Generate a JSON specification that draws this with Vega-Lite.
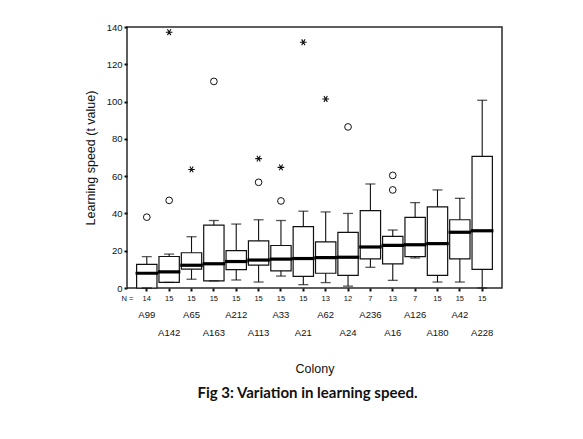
{
  "$schema": "https://vega.github.io/schema/vega-lite/v6.json",
  "width": 375,
  "height": 261,
  "autosize": "none",
  "padding": {"left": 127, "top": 27, "right": 81, "bottom": 151},
  "background": "white",
  "title": {
    "text": "Fig 3: Variation in learning speed.",
    "orient": "bottom",
    "anchor": "middle",
    "dx": -7,
    "offset": 11,
    "font": "Lato",
    "fontSize": 15,
    "fontWeight": "bold",
    "color": "#111"
  },
  "datasets": {
    "boxes": [
      {"c": "A99", "n": 14, "lo": 0, "q1": 0, "med": 7.9, "q3": 12.7, "hi": 16.8},
      {"c": "A142", "n": 15, "lo": 3.0, "q1": 3.0, "med": 8.7, "q3": 16.9, "hi": 18.2},
      {"c": "A65", "n": 15, "lo": 4.7, "q1": 10.1, "med": 12.2, "q3": 18.9, "hi": 27.5},
      {"c": "A163", "n": 15, "lo": 3.8, "q1": 3.8, "med": 13.0, "q3": 33.7, "hi": 36.2},
      {"c": "A212", "n": 15, "lo": 4.3, "q1": 9.9, "med": 14.2, "q3": 20.1, "hi": 34.3},
      {"c": "A113", "n": 15, "lo": 3.2, "q1": 12.3, "med": 15.0, "q3": 25.3, "hi": 36.6},
      {"c": "A33", "n": 15, "lo": 6.4, "q1": 9.2, "med": 15.5, "q3": 22.8, "hi": 36.2},
      {"c": "A21", "n": 15, "lo": 1.8, "q1": 6.2, "med": 15.8, "q3": 32.9, "hi": 41.2},
      {"c": "A62", "n": 13, "lo": 2.9, "q1": 7.9, "med": 16.3, "q3": 24.7, "hi": 40.8},
      {"c": "A24", "n": 12, "lo": 1.0, "q1": 6.8, "med": 16.5, "q3": 29.8, "hi": 40.0},
      {"c": "A236", "n": 7, "lo": 11.1, "q1": 15.6, "med": 22.0, "q3": 41.5, "hi": 55.8},
      {"c": "A16", "n": 13, "lo": 4.1, "q1": 12.9, "med": 22.9, "q3": 27.7, "hi": 31.1},
      {"c": "A126", "n": 7, "lo": 16.1, "q1": 16.8, "med": 23.2, "q3": 37.9, "hi": 45.8},
      {"c": "A180", "n": 15, "lo": 3.2, "q1": 6.8, "med": 23.8, "q3": 43.5, "hi": 52.6},
      {"c": "A42", "n": 15, "lo": 3.2, "q1": 15.6, "med": 29.9, "q3": 36.6, "hi": 48.1},
      {"c": "A228", "n": 15, "lo": 0, "q1": 10.0, "med": 30.7, "q3": 70.6, "hi": 100.7}
    ],
    "outliers": [
      {"c": "A99", "v": 38.0, "kind": "circle"},
      {"c": "A142", "v": 47.0, "kind": "circle"},
      {"c": "A142", "v": 137.2, "kind": "extreme"},
      {"c": "A65", "v": 63.6, "kind": "extreme"},
      {"c": "A163", "v": 110.8, "kind": "circle"},
      {"c": "A113", "v": 56.7, "kind": "circle"},
      {"c": "A113", "v": 69.4, "kind": "extreme"},
      {"c": "A33", "v": 46.7, "kind": "circle"},
      {"c": "A33", "v": 64.7, "kind": "extreme"},
      {"c": "A21", "v": 131.8, "kind": "extreme"},
      {"c": "A62", "v": 101.4, "kind": "extreme"},
      {"c": "A24", "v": 86.4, "kind": "circle"},
      {"c": "A16", "v": 60.4, "kind": "circle"},
      {"c": "A16", "v": 52.6, "kind": "circle"}
    ]
  },
  "config": {
    "view": {"stroke": "#2a2a2a", "strokeWidth": 1.5},
    "axis": {
      "labelFont": "Liberation Sans",
      "titleFont": "Liberation Sans",
      "titleFontWeight": "normal",
      "labelColor": "#111",
      "titleColor": "#111",
      "grid": false,
      "domain": false
    },
    "axisY": {
      "values": [0, 20, 40, 60, 80, 100, 120, 140],
      "labelFontSize": 9.5,
      "tickSize": 3,
      "tickWidth": 2,
      "tickColor": "#111",
      "labelPadding": 2,
      "titleFontSize": 12.5,
      "titlePadding": 9
    }
  },
  "resolve": {"axis": {"x": "independent"}},
  "layer": [
    {
      "data": {"name": "boxes"},
      "mark": {"type": "bar", "fill": "white", "stroke": "#111", "strokeWidth": 1.2},
      "encoding": {
        "x": {
          "field": "c", "type": "nominal",
          "sort": ["A99","A142","A65","A163","A212","A113","A33","A21","A62","A24","A236","A16","A126","A180","A42","A228"],
          "scale": {"paddingInner": 0.09, "paddingOuter": 0.43},
          "axis": {
            "orient": "bottom",
            "title": "N =",
            "titleFontSize": 7.5,
            "titleAngle": 0,
            "titleX": 0,
            "titleY": 10,
            "titleAlign": "center",
            "titleBaseline": "middle",
            "labelAngle": 0,
            "labelFontSize": 7.5,
            "labelPadding": 3,
            "tickSize": 3,
            "tickWidth": 2,
            "tickColor": "#111",
            "labelOverlap": false,
            "labelExpr": "['14','15','15','15','15','15','15','15','13','12','7','13','7','15','15','15'][indexof(['A99','A142','A65','A163','A212','A113','A33','A21','A62','A24','A236','A16','A126','A180','A42','A228'], datum.value)]"
          }
        },
        "y": {"field": "q1", "type": "quantitative", "scale": {"domain": [0, 140], "nice": false}, "title": "Learning speed (t value)"},
        "y2": {"field": "q3"}
      }
    },
    {
      "data": {"name": "boxes"},
      "mark": {"type": "rule", "color": "#111", "strokeWidth": 1.1},
      "encoding": {
        "x": {"field": "c", "type": "nominal", "sort": ["A99","A142","A65","A163","A212","A113","A33","A21","A62","A24","A236","A16","A126","A180","A42","A228"], "axis": null},
        "y": {"field": "q3", "type": "quantitative", "title": "Learning speed (t value)"},
        "y2": {"field": "hi"}
      }
    },
    {
      "data": {"name": "boxes"},
      "mark": {"type": "rule", "color": "#111", "strokeWidth": 1.1},
      "encoding": {
        "x": {"field": "c", "type": "nominal", "sort": ["A99","A142","A65","A163","A212","A113","A33","A21","A62","A24","A236","A16","A126","A180","A42","A228"], "axis": null},
        "y": {"field": "lo", "type": "quantitative", "title": "Learning speed (t value)"},
        "y2": {"field": "q1"}
      }
    },
    {
      "data": {"name": "boxes"},
      "mark": {"type": "tick", "color": "#111", "size": 10, "thickness": 1.3},
      "encoding": {
        "x": {"field": "c", "type": "nominal", "sort": ["A99","A142","A65","A163","A212","A113","A33","A21","A62","A24","A236","A16","A126","A180","A42","A228"], "axis": null},
        "y": {"field": "hi", "type": "quantitative", "title": "Learning speed (t value)"}
      }
    },
    {
      "data": {"name": "boxes"},
      "mark": {"type": "tick", "color": "#111", "size": 10, "thickness": 1.3},
      "encoding": {
        "x": {"field": "c", "type": "nominal", "sort": ["A99","A142","A65","A163","A212","A113","A33","A21","A62","A24","A236","A16","A126","A180","A42","A228"], "axis": null},
        "y": {"field": "lo", "type": "quantitative", "title": "Learning speed (t value)"}
      }
    },
    {
      "data": {"name": "boxes"},
      "mark": {"type": "tick", "color": "#000", "size": 22.5, "thickness": 3.2, "opacity": 1},
      "encoding": {
        "x": {
          "field": "c", "type": "nominal",
          "sort": ["A99","A142","A65","A163","A212","A113","A33","A21","A62","A24","A236","A16","A126","A180","A42","A228"],
          "axis": {
            "orient": "bottom",
            "title": "Colony",
            "titleFontSize": 12.5,
            "titlePadding": 26,
            "labelAngle": 0,
            "labelFontSize": 9.5,
            "labelPadding": 21,
            "labelLineHeight": 18,
            "ticks": false,
            "labelOverlap": false,
            "labelExpr": "indexof(['A99','A142','A65','A163','A212','A113','A33','A21','A62','A24','A236','A16','A126','A180','A42','A228'], datum.value) % 2 == 0 ? [datum.value, ''] : ['', datum.value]"
          }
        },
        "y": {"field": "med", "type": "quantitative", "title": "Learning speed (t value)"}
      }
    },
    {
      "data": {"name": "outliers"},
      "transform": [{"filter": "datum.kind == 'circle'"}],
      "mark": {"type": "point", "shape": "circle", "filled": false, "stroke": "#111", "strokeWidth": 1, "size": 45, "opacity": 1},
      "encoding": {
        "x": {"field": "c", "type": "nominal", "sort": ["A99","A142","A65","A163","A212","A113","A33","A21","A62","A24","A236","A16","A126","A180","A42","A228"], "axis": null},
        "y": {"field": "v", "type": "quantitative", "title": "Learning speed (t value)"}
      }
    },
    {
      "data": {"name": "outliers"},
      "transform": [{"filter": "datum.kind == 'extreme'"}],
      "mark": {"type": "point", "shape": "M-1,0L1,0M-0.5,-0.866L0.5,0.866M-0.5,0.866L0.5,-0.866", "filled": false, "stroke": "#111", "strokeWidth": 1.1, "size": 45, "opacity": 1},
      "encoding": {
        "x": {"field": "c", "type": "nominal", "sort": ["A99","A142","A65","A163","A212","A113","A33","A21","A62","A24","A236","A16","A126","A180","A42","A228"], "axis": null},
        "y": {"field": "v", "type": "quantitative", "title": "Learning speed (t value)"}
      }
    }
  ]
}
